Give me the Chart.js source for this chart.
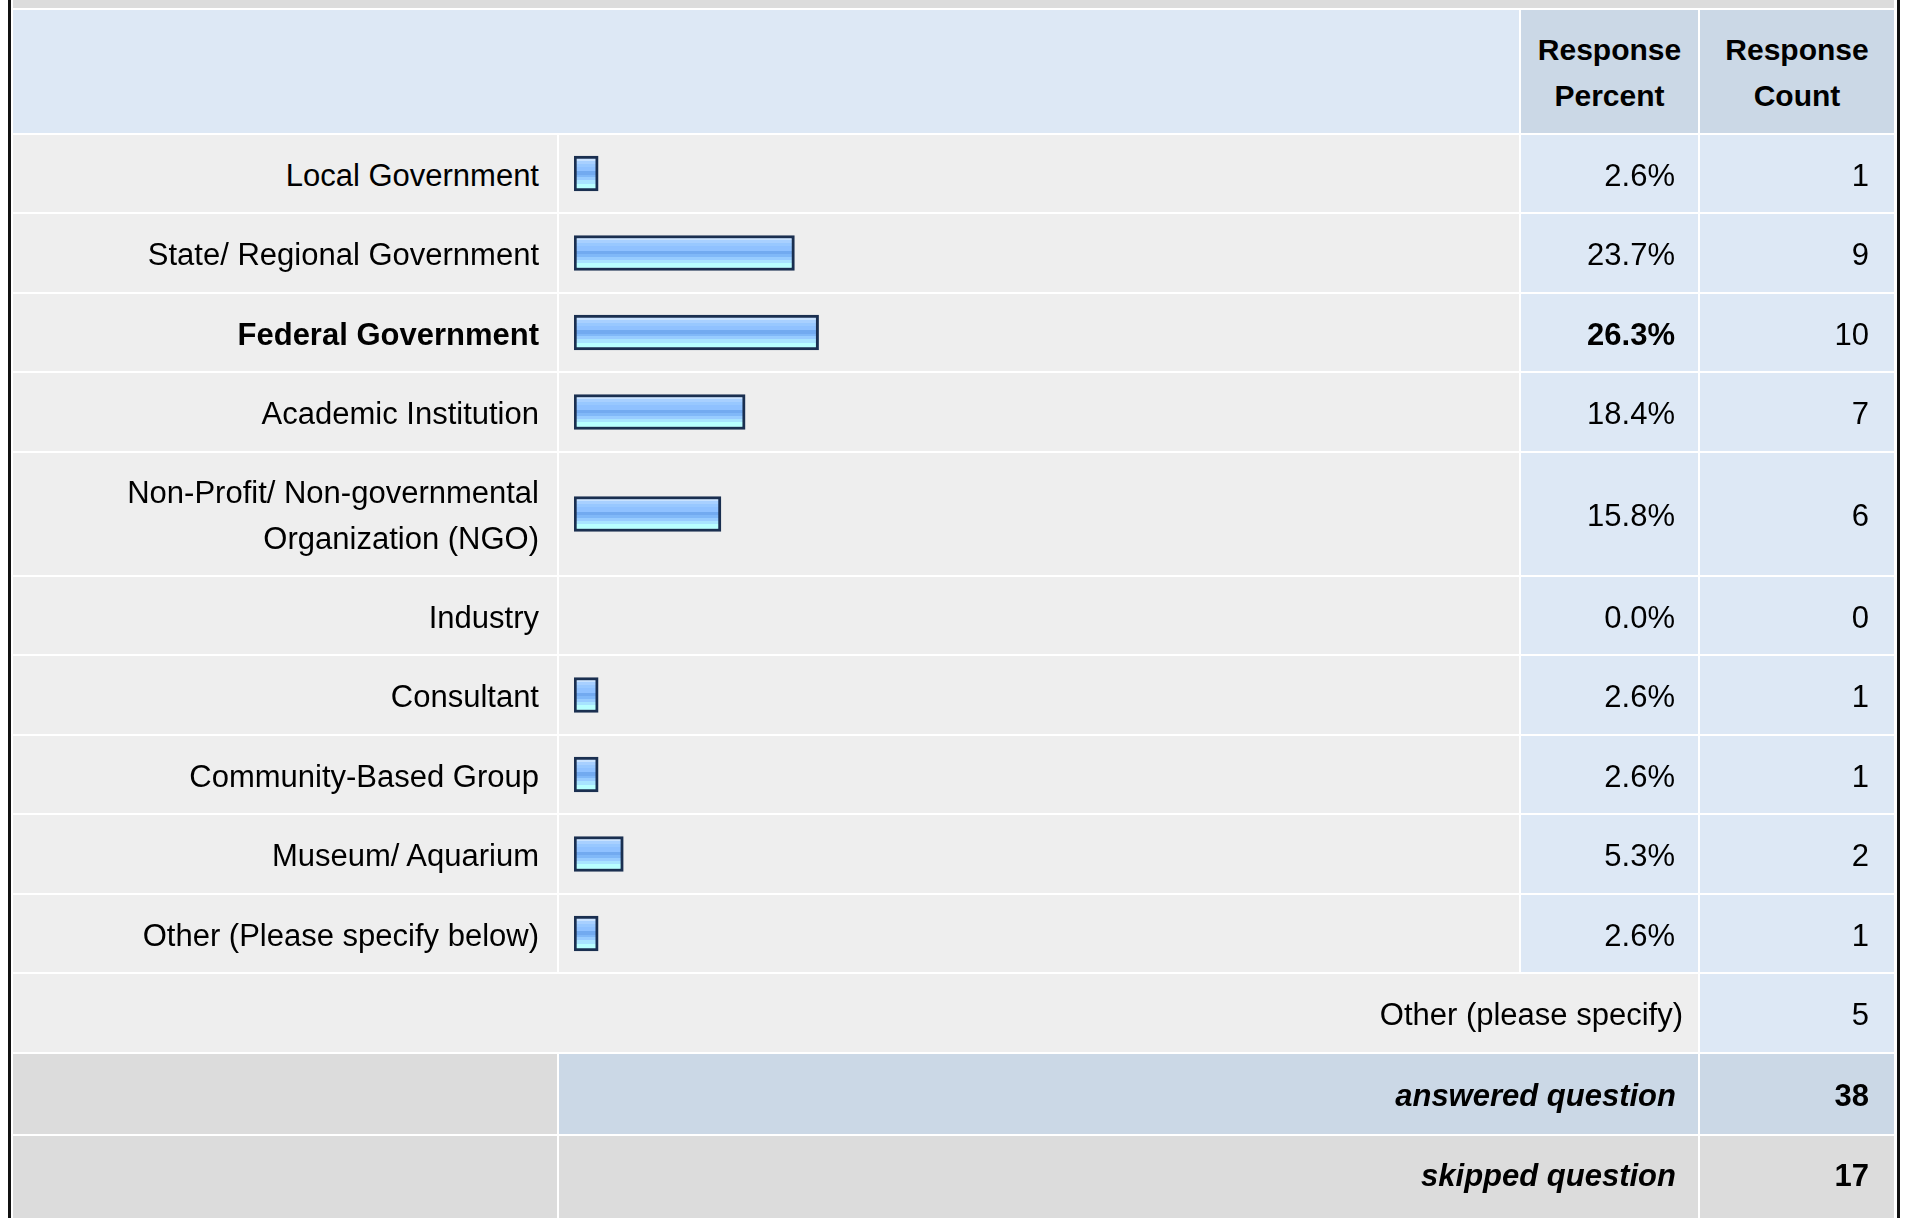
<!DOCTYPE html>
<html>
<head>
<meta charset="utf-8">
<script src="https://cdn.jsdelivr.net/npm/chart.js@4.4.1/dist/chart.umd.min.js"></script>
<style>
  html, body { margin: 0; padding: 0; background: #fff; overflow: hidden; }
  body { width: 1909px; height: 1218px; position: relative; font-family: "Liberation Sans", Arial, sans-serif; color: #000; }
  .edge { position: absolute; top: 0; width: 3px; height: 1218px; background: #111; }
  table { position: absolute; left: 11px; top: -2px; border-collapse: separate; border-spacing: 2px; table-layout: fixed; width: 1885px; }
  td { padding: 4px 0 0 0; vertical-align: middle; font-size: 31px; line-height: 46px; }
  .strip { background: #dcdcdc; padding: 0; }
  .hblue { background: #dde8f5; }
  .hdark { background: #cbd8e6; text-align: center; font-weight: bold; font-size: 30px; line-height: 46px; padding-top: 3px; }
  .lab { background: #eeeeee; text-align: right; padding-right: 18px; white-space: pre-line; }
  .bar { background: #eeeeee; padding: 0 0 0 15px; }
  .pct { background: #dde8f5; text-align: right; padding-right: 23px; }
  .cnt { background: #dde8f5; text-align: right; padding-right: 25px; }
  .bold { font-weight: bold; }
  .other { background: #eeeeee; text-align: right; padding-right: 15px; }
  .gray { background: #dcdcdc; }
  .sumlab { text-align: right; padding-right: 22px; font-weight: bold; font-style: italic; }
  .sumcnt { text-align: right; padding-right: 25px; font-weight: bold; }
  .dark { background: #cbd8e6; }
  .last td { padding-top: 0; padding-bottom: 6px; }
  canvas { display: block; }
</style>
</head>
<body>
<div class="edge" style="left:8px"></div>
<div class="edge" style="left:1897px"></div>
<table id="tbl">
  <colgroup>
    <col style="width:544px"><col style="width:960px"><col style="width:177px"><col style="width:194px">
  </colgroup>
  <tbody id="body"></tbody>
</table>
<script>
// Dados da pergunta
const categories = [
  'Local Government',
  'State/ Regional Government',
  'Federal Government',
  'Academic Institution',
  'Non-Profit/ Non-governmental\nOrganization (NGO)',
  'Industry',
  'Consultant',
  'Community-Based Group',
  'Museum/ Aquarium',
  'Other (Please specify below)'
];
const responsePercent = [2.6, 23.7, 26.3, 18.4, 15.8, 0.0, 2.6, 2.6, 5.3, 2.6];
const responseCount = [1, 9, 10, 7, 6, 0, 1, 1, 2, 1];
const otherSpecifyCount = 5;
const answeredQuestion = 38;
const skippedQuestion = 17;

// alturas das linhas (layout)
const rowHeights = [77, 78, 77, 78, 122, 77, 78, 77, 78, 77];

const tbody = document.getElementById('body');
const maxIdx = responsePercent.indexOf(Math.max(...responsePercent));

function addRow(html, h) {
  const tr = document.createElement('tr');
  tr.style.height = h + 'px';
  tr.innerHTML = html;
  tbody.appendChild(tr);
  return tr;
}

addRow('<td class="strip" colspan="4"></td>', 8);
addRow('<td class="hblue" colspan="2"></td><td class="hdark">Response<br>Percent</td><td class="hdark">Response<br>Count</td>', 123);

const canvases = [];
categories.forEach((cat, i) => {
  const b = i === maxIdx ? ' bold' : '';
  const tr = addRow(
    '<td class="lab' + b + '"></td><td class="bar"></td>' +
    '<td class="pct' + b + '">' + responsePercent[i].toFixed(1) + '%</td>' +
    '<td class="cnt">' + responseCount[i] + '</td>', rowHeights[i]);
  tr.children[0].textContent = cat;
  const c = document.createElement('canvas');
  c.width = 930;
  c.height = rowHeights[i];
  c.style.width = '930px';
  c.style.height = rowHeights[i] + 'px';
  tr.children[1].appendChild(c);
  canvases.push(c);
});

addRow('<td class="other" colspan="3">Other (please specify)</td><td class="cnt">' + otherSpecifyCount + '</td>', 78);
addRow('<td class="gray"></td><td class="dark sumlab" colspan="2">answered question</td><td class="dark sumcnt">' + answeredQuestion + '</td>', 80);
const lastRow = addRow('<td class="gray"></td><td class="gray sumlab" colspan="2">skipped question</td><td class="gray sumcnt">' + skippedQuestion + '</td>', 85);
lastRow.className = 'last';

// gradiente listrado das barras
function barFill(ctx) {
  const chart = ctx.chart;
  const area = chart.chartArea;
  if (ctx.raw === 0) return 'rgba(0,0,0,0)';
  if (!area || !isFinite(area.top) || !isFinite(area.bottom)) return '#92c4ff';
  const mid = (area.top + area.bottom) / 2;
  const g = chart.ctx.createLinearGradient(0, mid - 17.5, 0, mid + 17.5);
  const bands = [
    [0.00, '#c8e2ff'], [0.13, '#c8e2ff'],
    [0.13, '#a8d0ff'], [0.22, '#a8d0ff'],
    [0.22, '#98c8ff'], [0.31, '#98c8ff'],
    [0.31, '#8fc1ff'], [0.44, '#8fc1ff'],
    [0.44, '#72aaf0'], [0.54, '#72aaf0'],
    [0.54, '#80b8f8'], [0.61, '#80b8f8'],
    [0.61, '#98ccff'], [0.70, '#98ccff'],
    [0.70, '#a8e4ff'], [0.80, '#a8e4ff'],
    [0.80, '#b8ffff'], [1.00, '#b8ffff']
  ];
  bands.forEach(s => g.addColorStop(s[0], s[1]));
  return g;
}

function createBar(canvas, value, label) {
  new Chart(canvas, {
    type: 'bar',
    data: {
      labels: [label],
      datasets: [{
        data: [value],
        backgroundColor: barFill,
        borderColor: ctx => (ctx.raw > 0 ? '#1a2f50' : 'rgba(0,0,0,0)'),
        borderWidth: ctx => (ctx.raw > 0 ? 3 : 0),
        borderSkipped: false,
        barThickness: 35
      }]
    },
    options: {
      indexAxis: 'y',
      responsive: false,
      animation: false,
      events: [],
      layout: { padding: 0 },
      plugins: { legend: { display: false }, tooltip: { enabled: false } },
      scales: {
        x: { display: false, min: 0, max: 100 },
        y: { display: false }
      }
    }
  });
}

canvases.forEach((c, i) => createBar(c, responsePercent[i], categories[i]));
</script>
</body>
</html>
